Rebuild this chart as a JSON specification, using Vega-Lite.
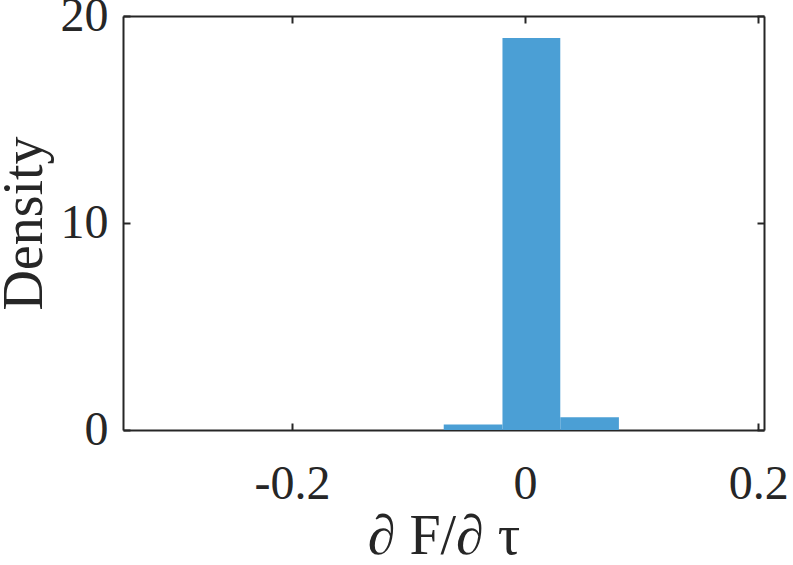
{
  "$schema": "https://vega.github.io/schema/vega-lite/v6.json",
  "width": 641,
  "height": 414,
  "autosize": {"type": "none"},
  "padding": {"left": 123, "top": 16, "right": 29, "bottom": 135},
  "background": "white",
  "config": {
    "view": {"stroke": null},
    "font": "Liberation Serif",
    "axis": {
      "domainColor": "#262626",
      "domainWidth": 2,
      "tickColor": "#262626",
      "tickWidth": 2,
      "tickSize": -7,
      "grid": false,
      "labelFont": "Liberation Serif",
      "labelFontSize": 48,
      "labelColor": "#262626",
      "titleFont": "Liberation Serif",
      "titleFontSize": 56,
      "titleFontWeight": "normal",
      "titleColor": "#262626"
    }
  },
  "data": {
    "values": [
      {"bin_start": -0.0698, "bin_end": -0.0194, "density": 0.27},
      {"bin_start": -0.0194, "bin_end": 0.0302, "density": 18.94},
      {"bin_start": 0.0302, "bin_end": 0.0805, "density": 0.62}
    ]
  },
  "layer": [
    {
      "mark": {"type": "rect", "color": "#4B9FD5"},
      "encoding": {
        "x": {
          "field": "bin_start",
          "type": "quantitative",
          "scale": {"domain": [-0.345, 0.205], "nice": false, "zero": false},
          "axis": {
            "orient": "bottom",
            "values": [-0.2, 0, 0.2],
            "labelPadding": 37,
            "title": "∂ F/∂ τ",
            "titlePadding": 1,
            "labelExpr": "datum.value === 0 ? '0' : (datum.value < 0 ? '-' : '') + format(abs(datum.value), '.1f')"
          }
        },
        "x2": {"field": "bin_end"},
        "y": {
          "field": "density",
          "type": "quantitative",
          "scale": {"domain": [0, 20], "nice": false},
          "axis": {
            "orient": "left",
            "values": [0, 10, 20],
            "labelPadding": 22,
            "title": "Density",
            "titlePadding": 7
          }
        },
        "y2": {"datum": 0}
      }
    },
    {
      "mark": {"type": "rect", "opacity": 0},
      "encoding": {
        "x": {
          "field": "bin_start",
          "type": "quantitative",
          "axis": {"orient": "top", "values": [-0.2, 0, 0.2], "labels": false, "title": null}
        },
        "y": {
          "field": "density",
          "type": "quantitative",
          "axis": {"orient": "right", "values": [0, 10, 20], "labels": false, "title": null}
        }
      }
    }
  ],
  "resolve": {"axis": {"x": "independent", "y": "independent"}}
}
